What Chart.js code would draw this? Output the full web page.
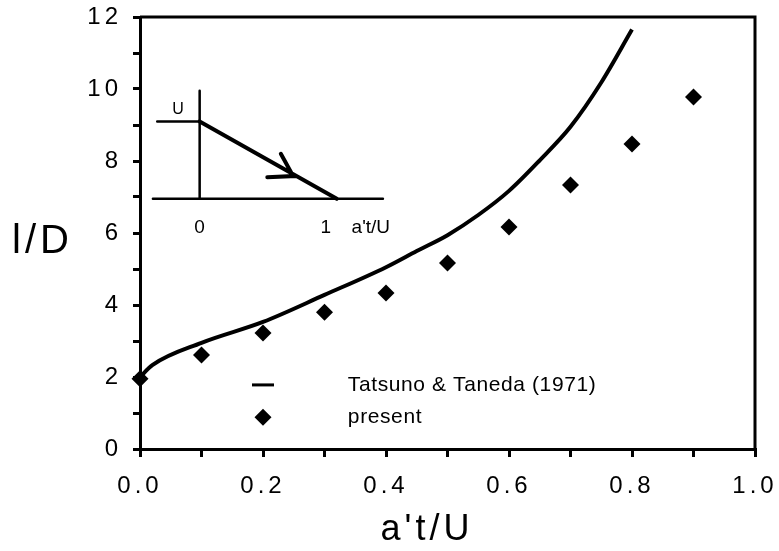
<!DOCTYPE html>
<html>
<head>
<meta charset="utf-8">
<script src="https://cdn.jsdelivr.net/npm/chart.js@4"></script>
<style>
  body { margin: 0; background: #fff; }
  #wrap { width: 779px; height: 551px; }
</style>
</head>
<body>
<div id="wrap"><canvas id="chart" width="779" height="551"></canvas></div>
<script>
// ===== Data =====
const tatsunoX = [0, 0.02, 0.1, 0.2, 0.3, 0.4, 0.45, 0.5, 0.55, 0.6, 0.65, 0.7, 0.75, 0.8];
const tatsunoY = [2.0, 2.33, 2.95, 3.53, 4.28, 5.05, 5.5, 5.94, 6.5, 7.17, 8.02, 8.95, 10.18, 11.65];
const presentX = [0, 0.1, 0.2, 0.3, 0.4, 0.5, 0.6, 0.7, 0.8, 0.9];
const presentY = [1.95, 2.61, 3.22, 3.8, 4.33, 5.17, 6.17, 7.33, 8.47, 9.78];
const seriesNames = ['Tatsuno & Taneda (1971)', 'present'];
const xTitle = "a't/U";
const yTitle = 'l/D';

const FONT = '"Liberation Sans", Arial, sans-serif';

function toPoints(xs, ys) {
    return xs.map((x, i) => ({ x: x, y: ys[i] }));
}

// small sketch of the velocity history (upper left), in data units
const insetPlugin = {
    id: 'inset',
    afterDraw(chart) {
        const ctx = chart.ctx;
        const xs = chart.scales.x, ys = chart.scales.y;
        const px = v => xs.getPixelForValue(v);
        const py = v => ys.getPixelForValue(v);
        ctx.save();
        ctx.letterSpacing = '0px';
        ctx.strokeStyle = '#000';
        ctx.lineCap = 'round';
        ctx.lineWidth = 2.5;
        ctx.beginPath();
        ctx.moveTo(px(0.021), py(6.95)); ctx.lineTo(px(0.395), py(6.95));   // axis
        ctx.moveTo(px(0.097), py(9.95)); ctx.lineTo(px(0.097), py(6.95));   // vertical
        ctx.moveTo(px(0.028), py(9.1)); ctx.lineTo(px(0.097), py(9.1));     // U level
        ctx.stroke();
        ctx.lineWidth = 4;
        ctx.beginPath();
        ctx.moveTo(px(0.097), py(9.1)); ctx.lineTo(px(0.32), py(6.95));
        ctx.moveTo(px(0.229), py(8.2)); ctx.lineTo(px(0.249), py(7.58));
        ctx.lineTo(px(0.207), py(7.55));
        ctx.stroke();
        ctx.fillStyle = '#000';
        ctx.textBaseline = 'alphabetic';
        ctx.font = '16px ' + FONT;
        ctx.textAlign = 'center';
        ctx.fillText('U', px(0.062), py(9.3));
        ctx.font = '19px ' + FONT;
        ctx.fillText('0', px(0.097), py(6.0));
        ctx.fillText('1', px(0.302), py(6.0));
        ctx.textAlign = 'left';
        ctx.fillText("a't/U", px(0.344), py(6.0));
        ctx.restore();
    }
};

// frame, legend and axis titles
const framePlugin = {
    id: 'frame',
    beforeDraw(chart) {
        chart.ctx.letterSpacing = '4px';
    },
    afterDraw(chart) {
        const ctx = chart.ctx;
        const a = chart.chartArea;
        const xs = chart.scales.x, ys = chart.scales.y;
        ctx.save();
        ctx.letterSpacing = '0px';
        ctx.strokeStyle = '#000';
        ctx.lineWidth = 3;
        ctx.beginPath();
        ctx.moveTo(a.left, a.top); ctx.lineTo(a.right, a.top); ctx.lineTo(a.right, a.bottom);
        ctx.stroke();

        // legend
        const lx = xs.getPixelForValue(0.2);
        const tx = xs.getPixelForValue(0.338);
        const y1 = ys.getPixelForValue(1.78), y2 = ys.getPixelForValue(0.88);
        ctx.lineWidth = 3;
        ctx.beginPath();
        ctx.moveTo(lx - 11, y1); ctx.lineTo(lx + 11, y1);
        ctx.stroke();
        ctx.fillStyle = '#000';
        ctx.beginPath();
        ctx.moveTo(lx, y2 - 8.5); ctx.lineTo(lx + 8.5, y2); ctx.lineTo(lx, y2 + 8.5); ctx.lineTo(lx - 8.5, y2);
        ctx.closePath(); ctx.fill();
        ctx.font = '21px ' + FONT;
        ctx.textAlign = 'left';
        ctx.textBaseline = 'middle';
        ctx.letterSpacing = '0.6px';
        ctx.fillText(seriesNames[0], tx, y1);
        ctx.fillText(seriesNames[1], tx, y2);

        // axis titles
        ctx.textBaseline = 'alphabetic';
        ctx.letterSpacing = '4px';
        ctx.font = '36px ' + FONT;
        ctx.textAlign = 'center';
        ctx.fillText(xTitle, 427, 540);
        ctx.font = '40px ' + FONT;
        ctx.textAlign = 'left';
        ctx.fillText(yTitle, 12, 253);
        ctx.restore();
    }
};

new Chart(document.getElementById('chart').getContext('2d'), {
    type: 'scatter',
    data: {
        datasets: [
            {
                label: seriesNames[0],
                data: toPoints(tatsunoX, tatsunoY),
                showLine: true,
                borderColor: '#000',
                borderWidth: 4,
                cubicInterpolationMode: 'monotone',
                pointRadius: 0,
                fill: false
            },
            {
                label: seriesNames[1],
                data: toPoints(presentX, presentY),
                showLine: false,
                pointStyle: 'rectRot',
                pointRadius: 8.5,
                backgroundColor: '#000',
                borderColor: '#000',
                borderWidth: 0,
                clip: false
            }
        ]
    },
    options: {
        responsive: false,
        animation: false,
        layout: { padding: { top: 17, right: 24, left: 0, bottom: 0 } },
        plugins: { legend: { display: false }, tooltip: { enabled: false } },
        scales: {
            x: {
                type: 'linear',
                min: 0, max: 1,
                afterFit: s => { s.height = 102; s.paddingLeft = 0; s.paddingRight = 0; },
                border: { display: true, color: '#000', width: 3 },
                grid: { drawOnChartArea: false, drawTicks: true, tickLength: 8, color: '#000', lineWidth: 3 },
                ticks: {
                    stepSize: 0.1,
                    color: '#000',
                    padding: 15,
                    maxRotation: 0,
                    autoSkip: false,
                    font: { family: FONT, size: 24 },
                    callback: v => (Math.round(v * 10) % 2 === 0 ? v.toFixed(1) : '')
                }
            },
            y: {
                type: 'linear',
                min: 0, max: 12,
                afterFit: s => { s.width = 140; s.paddingTop = 0; s.paddingBottom = 0; },
                border: { display: true, color: '#000', width: 3 },
                grid: { drawOnChartArea: false, drawTicks: true, tickLength: 7, color: '#000', lineWidth: 3 },
                ticks: {
                    stepSize: 1,
                    color: '#000',
                    padding: 11,
                    autoSkip: false,
                    font: { family: FONT, size: 24 },
                    callback: v => (Math.round(v) % 2 === 0 ? String(v) : '')
                }
            }
        }
    },
    plugins: [framePlugin, insetPlugin]
});
</script>
</body>
</html>
